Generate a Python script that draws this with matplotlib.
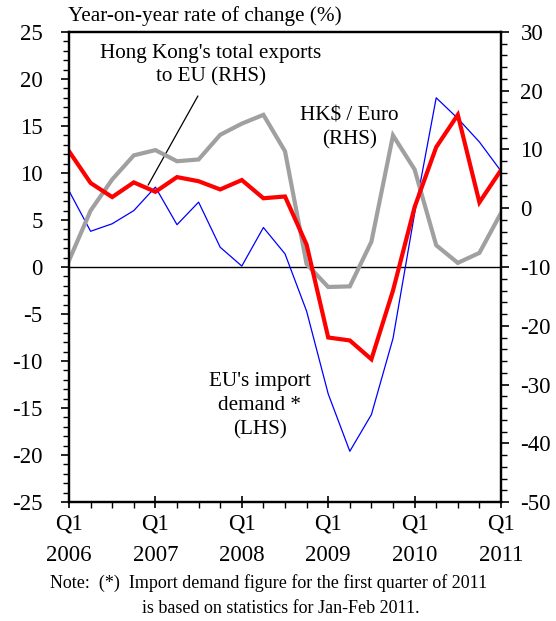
import numpy as np
import matplotlib.pyplot as plt
from matplotlib.ticker import MultipleLocator

plt.rcParams['font.family'] = ['Liberation Serif', 'DejaVu Serif']
plt.rcParams['axes.unicode_minus'] = False

# quarters Q1 2006 .. Q1 2011
quarters = np.arange(21)
year_labels = ["Q1\n2006", "Q1\n2007", "Q1\n2008", "Q1\n2009", "Q1\n2010", "Q1\n2011"]

# EU's import demand (LHS)
eu_import = [8.1, 3.8, 4.6, 6.0, 8.5, 4.5, 6.9, 2.1, 0.1, 4.2, 1.4,
             -4.7, -13.5, -19.6, -15.7, -7.6, 5.7, 18.0, 15.8, 13.3, 10.2]
# Hong Kong's total exports to EU (RHS)
hk_exports = [9.7, 4.3, 1.9, 4.4, 2.8, 5.3, 4.6, 3.2, 4.8, 1.7, 2.0,
              -6.2, -22.0, -22.5, -25.7, -14.0, 0.2, 10.4, 15.9, 1.0, 6.5]
# HK$ / Euro (RHS)
hkd_euro = [-8.9, -0.4, 4.9, 9.0, 9.9, 8.0, 8.3, 12.5, 14.4, 15.9, 9.7,
            -9.5, -13.4, -13.3, -5.7, 12.4, 6.6, -6.3, -9.3, -7.6, -0.8]

fig = plt.figure(figsize=(5.56, 6.21), dpi=100)
ax = fig.add_axes([0.1241, 0.1916, 0.777, 0.7569])
ax2 = ax.twinx()

ax.axhline(0, color='black', lw=1, zorder=1)
ax.plot(quarters, eu_import, color='#0000ff', lw=0.9, zorder=3)
ax2.plot(quarters, hkd_euro, color='#a0a0a0', lw=3.0, solid_joinstyle='miter')
ax2.plot(quarters, hk_exports, color='#ff0000', lw=3.0, solid_joinstyle='miter')

ax.set_xlim(0, 20)
ax.set_ylim(-25, 25)
ax2.set_ylim(-50, 30)

ax.set_xticks(np.arange(0, 21, 4))
ax.set_xticklabels(year_labels)
ax.xaxis.set_minor_locator(MultipleLocator(1))
ax.yaxis.set_major_locator(MultipleLocator(5))
ax.yaxis.set_minor_locator(MultipleLocator(1))
ax2.yaxis.set_major_locator(MultipleLocator(10))
ax2.yaxis.set_minor_locator(MultipleLocator(2))

ax.tick_params(axis='y', which='major', length=6, width=1.2, pad=13, labelsize=16.5)
ax.tick_params(axis='y', which='minor', length=4, width=1.0)
ax.tick_params(axis='x', which='major', direction='inout', length=9, width=1.2, pad=4, labelsize=16.5)
ax.tick_params(axis='x', which='minor', length=4, width=1.0)
ax2.tick_params(axis='y', which='major', length=6, width=1.2, pad=8, labelsize=16.5)
ax2.tick_params(axis='y', which='minor', length=4, width=1.0)
for label in ax.get_xticklabels():
    label.set_linespacing(1.65)

for a in (ax, ax2):
    for s in a.spines.values():
        s.set_linewidth(1.6)

ax.annotate("", xy=(3.6, 8.45), xytext=(6.03, 18.45),
            arrowprops=dict(arrowstyle='-', color='black', lw=0.9))
ax.text(6.57, 21.46, "Hong Kong's total exports\nto EU (RHS)", ha='center', va='center',
        fontsize=15.2, linespacing=1.35)
ax.text(12.99, 14.76, "HK\\$ / Euro\n(RHS)", ha='center', va='center',
        fontsize=15.2, linespacing=1.35)
ax.text(8.84, -14.77, "EU's import\ndemand *\n(LHS)", ha='center', va='center',
        fontsize=15.2, linespacing=1.35)

fig.text(0.1223, 0.974, "Year-on-year rate of change (%)", ha='left', va='center', fontsize=15.3)
fig.text(0.09, 0.0612, "Note:  (*)  Import demand figure for the first quarter of 2011",
         ha='left', va='center', fontsize=13.0)
fig.text(0.2554, 0.0209, "is based on statistics for Jan-Feb 2011.",
         ha='left', va='center', fontsize=13.0)

fig.savefig("out.png", dpi=100)
